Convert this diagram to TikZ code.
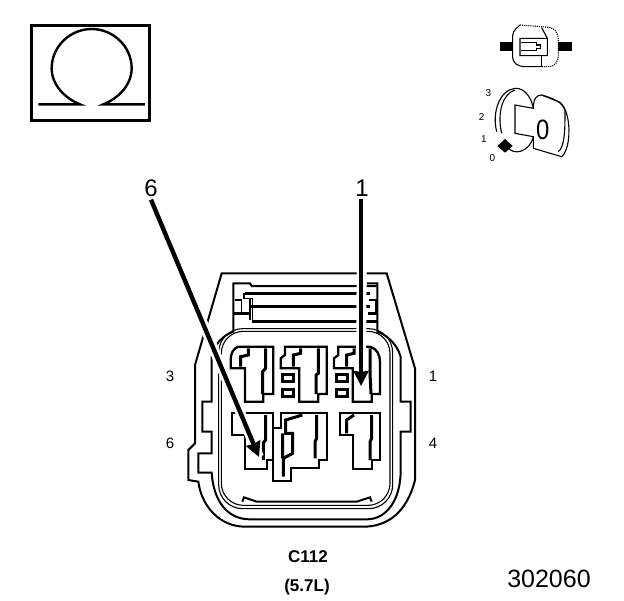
\documentclass[tikz,border=0pt]{standalone}
\usepackage{fontspec}
\setmainfont{Liberation Sans}
\usetikzlibrary{arrows.meta}
\begin{document}
\begin{tikzpicture}[
    x=1pt,y=-1pt,
    line join=miter,
    thin line/.style={line width=1.1pt},
    body line/.style={line width=2pt},
    bold line/.style={line width=3pt},
    pin/.style={line width=2.3pt,fill=white},
    halo/.style={white,line width=10pt},
    pointer/.style={line width=4.4pt,-{Stealth[length=15pt,width=15pt,inset=1pt]}},
    view/.style={x=1/3 pt,y=-1/3 pt},
    lbl/.style={inner sep=0pt,font=\fontsize{15}{18}\selectfont},
    big/.style={inner sep=0pt,font=\fontsize{24}{26}\selectfont},
    small/.style={inner sep=0pt,font=\fontsize{10}{12}\selectfont},
    caption/.style={inner sep=0pt,font=\bfseries\fontsize{17}{20}\selectfont},
    ]
    \useasboundingbox[fill=white] (0,0) rectangle (624,600);

    % meter symbol
    \begin{scope}[shift={(20,15)},view]
      \draw[line width=3pt] (33,30) rectangle (390,317);
      \draw[line width=2.4pt] (55,268) -- (180,268) .. controls (135,250) and (95,210) .. (95,160)
        .. controls (95,95) and (150,42) .. (215,42)
        .. controls (280,42) and (335,95) .. (335,160)
        .. controls (335,210) and (295,250) .. (250,268) -- (375,268);
    \end{scope}

    % switch and key
    \begin{scope}[shift={(470,15)},view]
      \fill (90,82) rectangle (128,108);
      \fill (265,82) rectangle (305,108);
      \draw[thin line,rounded corners=4pt] (150,30) -- (128,50) -- (128,140) -- (150,155) -- (215,155);
      \draw[thin line,densely dotted,rounded corners=4pt] (150,30) -- (250,38) -- (265,60) -- (265,135) -- (250,155) -- (215,155);
      \draw[thin line] (215,38) -- (232,70) -- (232,122) -- (150,122) -- (150,70) -- (232,70);
      \draw[thin line] (215,122) -- (215,155);
      \draw[thin line] (152,83) -- (200,83) -- (200,90) -- (212,90) -- (212,100) -- (200,100) -- (200,107) -- (152,107);
      \draw[thin line] (80,350) .. controls (65,290) and (90,225) .. (135,220)
        .. controls (165,218) and (185,250) .. (190,280) -- (135,270)
        -- (135,355) -- (190,365) .. controls (180,410) and (130,425) .. (112,395);
      \draw[thin line] (95,355) .. controls (80,290) and (100,235) .. (135,225);
      \draw[thin line] (190,280) .. controls (190,250) and (200,240) .. (215,240)
        -- (270,262) .. controls (305,290) and (305,400) .. (275,425) -- (190,400) -- (190,365);
      \draw[thin line] (215,240) .. controls (250,250) and (275,260) .. (285,285)
        .. controls (285,340) and (285,395) .. (265,410);
      \fill (82,393) -- (105,372) -- (128,393) -- (105,413) -- cycle;
      \node[inner sep=0pt,font=\fontsize{28}{30}\selectfont,xscale=.85] (keypos) at (218,345) {0};
      \node[small] (posthree) at (55,235) {3};
      \node[small] (postwo) at (35,305) {2};
      \node[small] (posone) at (42,372) {1};
      \node[small] (poszero) at (67,428) {0};
    \end{scope}

    % connector body
    \begin{scope}[shift={(170,250)},view]
      \draw[body line] (75,345) -- (155,70) -- (650,70) -- (735,355) -- (735,690)
        .. controls (710,790) and (650,830) .. (580,830) -- (225,830)
        .. controls (150,830) and (95,770) .. (85,695) -- (55,690) -- (55,600) -- (75,580) -- cycle;
      \draw[body line] (125,345) -- (125,455) -- (97,455) -- (97,545) -- (125,545) -- (125,610)
        -- (85,610) -- (85,668) -- (125,668) .. controls (130,750) and (170,808) .. (240,808)
        -- (590,808) .. controls (650,808) and (690,750) .. (692,668) -- (692,545)
        -- (722,545) -- (722,455) -- (692,455) -- (692,320) .. controls (680,280) and (650,255) .. (622,245)
        -- (622,100) -- (590,100);
      \draw[body line] (125,345) -- (125,320) .. controls (130,285) and (160,255) .. (190,245)
        -- (190,100) -- (240,100) -- (245,108) -- (620,108);
      \draw[bold line] (225,130) -- (600,130) (190,190) -- (240,190) (595,190) -- (622,190)
        (240,170) -- (600,170) (245,213) -- (622,213);
      \draw[thin line] (195,150) -- (215,150) -- (215,185) (222,130) -- (222,145) -- (248,145) -- (248,210)
        (240,145) -- (240,210) (598,150) -- (618,150) -- (618,185);
      \draw[thin line,rounded corners=24pt] (146,400) -- (146,776) -- (668,776) -- (668,236) -- (146,236) -- (146,400);
      \draw[thin line,rounded corners=22pt] (154,400) -- (154,766) -- (660,766) -- (660,244) -- (154,244) -- (154,400);
      \draw[body line] (217,755) -- (222,742) -- (260,755) -- (560,755) -- (600,742) -- (605,755);

      % upper row
      \draw[pin] (205,290) -- (310,290) -- (310,432) -- (280,432) -- (280,455) -- (225,455) -- (225,355)
        -- (182,355) -- (182,330) .. controls (182,310) and (190,295) .. (205,290);
      \draw[bold line] (235,295) -- (235,315) -- (212,320) -- (212,350) (287,295) -- (287,355) -- (278,365) -- (278,432);
      \draw[pin] (345,290) -- (470,290) -- (470,432) -- (445,432) -- (445,455) -- (388,455) -- (388,355)
        -- (332,355) -- (332,325) -- (345,315) -- cycle;
      \draw[bold line] (392,295) -- (392,310) -- (370,315) -- (370,350) (445,295) -- (445,370) -- (438,375) -- (438,432);
      \draw[pin] (505,290) -- (600,290) .. controls (620,295) and (630,315) .. (630,335) -- (630,432) -- (605,432) -- (605,455)
        -- (548,455) -- (548,355) -- (492,355) -- (492,325) -- (505,315) -- cycle;
      \draw[bold line] (552,295) -- (552,310) -- (530,315) -- (530,350) (600,295) -- (600,370) -- (603,432);
      \foreach \pinx in {338,500}{
        \draw[bold line] (\pinx,372) rectangle ++(32,22);
        \draw[bold line] (\pinx,418) rectangle ++(32,22);
      }

      % lower row
      \draw[pin] (185,490) -- (310,490) -- (310,630) -- (290,630) -- (290,658) -- (225,658) -- (225,555) -- (185,555) -- cycle;
      \draw[bold line] (287,495) -- (287,570) -- (280,578) -- (280,630);
      \draw[pin] (310,535) -- (332,535) -- (332,490) -- (472,490) -- (472,630) -- (447,630) -- (447,655)
        -- (362,655) -- (362,692) -- (310,692) -- cycle;
      \draw[bold line] (397,495) -- (347,510) -- (347,550) -- (368,550) -- (368,610) -- (340,625) -- (340,680)
        (440,495) -- (440,565) -- (435,575) -- (435,625) (338,550) -- (338,625);
      \draw[pin] (510,490) -- (630,490) -- (630,630) -- (605,630) -- (605,658) -- (548,658) -- (548,555) -- (510,555) -- cycle;
      \draw[bold line] (552,495) -- (530,510) -- (530,550) (605,495) -- (605,565) -- (600,575) -- (600,630);
    \end{scope}

    % pointers
    \node[big] (labelsix) at (151,188) {6};
    \node[big] (labelone) at (362,188) {1};
    \coordinate (tipsix) at (259,457);
    \coordinate (tipone) at (361,386);
    \draw[halo] (labelsix.south) ++(0,3) -- (tipsix);
    \draw[halo] (labelone.south) ++(0,3) -- (tipone);
    \draw[pointer] (labelsix.south) ++(0,3) -- (tipsix);
    \draw[pointer] (labelone.south) ++(-1,3) -- (tipone);

    % cavity numbers
    \node[lbl] (cavthree) at (170,376) {3};
    \node[lbl] (cavsix) at (170,443) {6};
    \node[lbl] (cavone) at (433,376) {1};
    \node[lbl] (cavfour) at (433,443) {4};

    % captions
    \node[caption] (name) at (308,557) {C112};
    \node[caption] (engine) at (307,587) {(5.7L)};
    \node[inner sep=0pt,font=\fontsize{25}{28}\selectfont] (figno) at (549,579) {302060};
  \end{tikzpicture}
\end{document}
